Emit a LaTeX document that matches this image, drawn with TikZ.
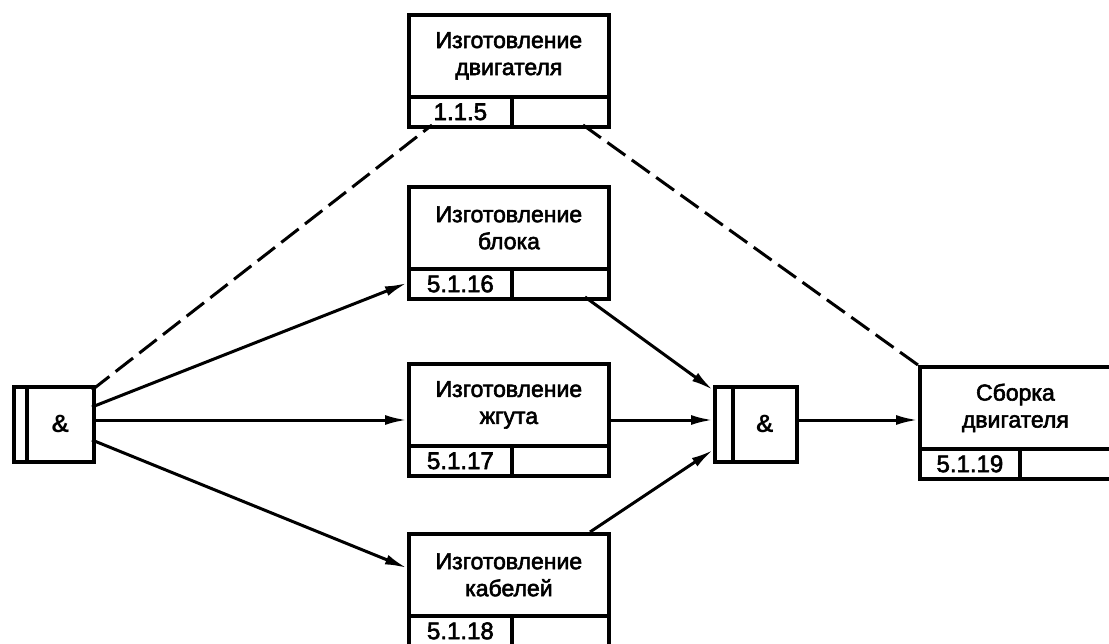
\documentclass[tikz,border=0pt]{standalone}
\usepackage{fontspec}
\setmainfont{Liberation Sans}
\newfontfamily\diagfont{Liberation Sans}[FakeBold=2.5]
\usetikzlibrary{arrows.meta}
\begin{document}
\begin{tikzpicture}[x=1pt,y=-1pt,
  txt/.style={font=\diagfont\fontsize{23}{27}\selectfont},
  numtxt/.style={font=\diagfont\fontsize{24}{27}\selectfont},
  mainbox/.style={draw,line width=3.8pt,minimum width=200pt,minimum height=82pt,inner sep=0pt,anchor=north west,align=center,txt},
  cellA/.style={draw,line width=3.8pt,minimum width=103pt,minimum height=30pt,inner sep=0pt,anchor=north west,numtxt},
  cellB/.style={draw,line width=3.8pt,minimum width=97pt,minimum height=30pt,inner sep=0pt,anchor=north west},
  andbox/.style={draw,line width=3.8pt,minimum height=75pt,inner sep=0pt,anchor=north west,font=\bfseries\fontsize{25}{27}\selectfont},
  conn/.style={line width=3pt},
  arr/.style={conn,-{Latex[length=22pt,width=10pt]}},
  dsh/.style={line width=3pt,dash pattern=on 22pt off 8pt}
]
\useasboundingbox (0,0) rectangle (1109,644);
% left AND
\node[andbox,minimum width=13pt] (la) at (12,385) {};
\node[andbox,minimum width=67pt] (lb) at (25,385) {\&};
% right AND
\node[andbox,minimum width=18pt] (ra) at (713,385) {};
\node[andbox,minimum width=64pt] (rb) at (731,385) {\&};
% box 1
\node[mainbox] (m1) at (407,13) {Изготовление\\двигателя};
\node[cellA] (n1) at (407,95) {1.1.5};
\node[cellB] (e1) at (510,95) {};
% box 2
\node[mainbox] (m2) at (407,185) {Изготовление\\блока};
\node[cellA] (n2) at (407,267) {5.1.16};
\node[cellB] (e2) at (510,267) {};
% box 3
\node[mainbox] (m3) at (407,362) {Изготовление\\жгута};
\node[cellA] (n3) at (407,444) {5.1.17};
\node[cellB] (e3) at (510,444) {};
% box 4
\node[mainbox] (m4) at (407,532) {Изготовление\\кабелей};
\node[cellA] (n4) at (407,614) {5.1.18};
\node[cellB] (e4) at (510,614) {};
% box 5
\node[mainbox,minimum width=191pt] (m5) at (918,365) {Сборка\\двигателя};
\node[cellA,minimum width=100pt] (n5) at (918,447) {5.1.19};
\node[cellB,minimum width=91pt] (e5) at (1018,447) {};
% connection points
\coordinate (d1s) at (92,390);
\coordinate (d1e) at (432,125);
\coordinate (d2s) at (583,125);
\coordinate (d2e) at (918,365);
\coordinate (o2) at (92,407);
\coordinate (o3) at (92,420);
\coordinate (o4) at (92,440);
\coordinate (i2) at (407,283);
\coordinate (i3) at (407,420);
\coordinate (i4) at (407,568);
\coordinate (b2o) at (585,297);
\coordinate (b3o) at (607,420);
\coordinate (b4o) at (590,532);
\coordinate (r1) at (713,390);
\coordinate (r2) at (713,420);
\coordinate (r3) at (713,450);
\coordinate (ro) at (795,420);
\coordinate (si) at (918,420);
% connectors
\draw[dsh] (d1s) -- (d1e);
\draw[dsh] (d2s) -- (d2e);
\draw[arr] (o2) -- (i2);
\draw[arr] (o3) -- (i3);
\draw[arr] (o4) -- (i4);
\draw[arr] (b2o) -- (r1);
\draw[arr] (b3o) -- (r2);
\draw[arr] (b4o) -- (r3);
\draw[arr] (ro) -- (si);
\end{tikzpicture}
\end{document}
